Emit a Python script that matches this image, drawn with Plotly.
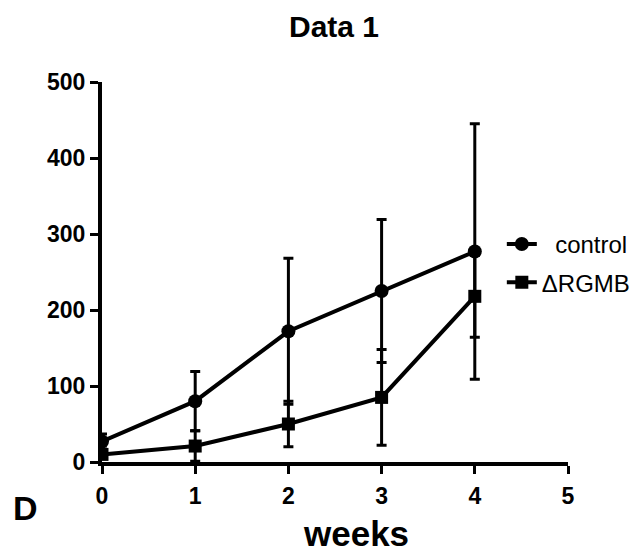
import plotly.graph_objects as go

weeks = [0, 1, 2, 3, 4]
control_mean = [27, 80, 172, 225, 277]
control_err = [10, 39, 96, 94, 168]
rgmb_mean = [10, 21, 50, 85, 218]
rgmb_err = [5, 20, 30, 63, 54]

SANS = "Liberation Sans, Arial, Helvetica, sans-serif"

fig = go.Figure()
fig.add_trace(go.Scatter(
    x=weeks, y=control_mean, name="\u00a0\u00a0control", mode="lines+markers",
    legendgroup="a",
    line=dict(color="black", width=4),
    marker=dict(symbol="circle", size=14, color="black"),
    error_y=dict(type="data", array=control_err, visible=True,
                 color="black", thickness=3, width=5),
))
fig.add_trace(go.Scatter(
    x=weeks, y=rgmb_mean, name="ΔRGMB", mode="lines+markers",
    legendgroup="b",
    line=dict(color="black", width=4),
    marker=dict(symbol="square", size=13, color="black"),
    error_y=dict(type="data", array=rgmb_err, visible=True,
                 color="black", thickness=3, width=5),
))

# page has an 8px body margin; figure sized/placed to compensate
fig.update_layout(
    width=634, height=546,
    paper_bgcolor="white", plot_bgcolor="white",
    margin=dict(l=94, r=74, t=74, b=92, autoexpand=False),
    title=dict(text="Data 1", x=(334 - 8) / 634, xanchor="center",
               y=1 - (26 - 8) / 546, yanchor="middle",
               font=dict(family=SANS, size=30, color="black", weight="bold")),
    showlegend=True,
    legend=dict(x=0.858, xanchor="left", y=0.632, yanchor="top",
                font=dict(family=SANS, size=24, color="black"),
                bgcolor="rgba(0,0,0,0)", tracegroupgap=4, itemwidth=30),
    font=dict(family=SANS, color="black"),
)
fig.update_xaxes(
    range=[0, 5], tickvals=[0, 1, 2, 3, 4, 5],
    showline=True, linecolor="black", linewidth=4,
    ticks="outside", ticklen=8, tickwidth=3, tickcolor="black",
    ticklabelstandoff=2,
    showgrid=False, zeroline=False,
    tickfont=dict(family=SANS, size=23, color="black", weight="bold"),
)
fig.update_yaxes(
    range=[0, 500], tickvals=[0, 100, 200, 300, 400, 500],
    showline=True, linecolor="black", linewidth=4,
    ticks="outside", ticklen=8, tickwidth=3, tickcolor="black",
    showgrid=False, zeroline=False,
    tickfont=dict(family=SANS, size=23, color="black", weight="bold"),
)
fig.add_annotation(text="weeks", xref="paper", yref="paper",
                   x=(356 - 102) / 466, y=(462 - 533) / 380,
                   xanchor="center", yanchor="middle", showarrow=False,
                   font=dict(family=SANS, size=35, color="black", weight="bold"))
fig.add_annotation(text="D", xref="paper", yref="paper",
                   x=(25 - 102) / 466, y=(462 - 508) / 380,
                   xanchor="center", yanchor="middle", showarrow=False,
                   font=dict(family=SANS, size=34, color="black", weight="bold"))

fig.write_html("out.html")
